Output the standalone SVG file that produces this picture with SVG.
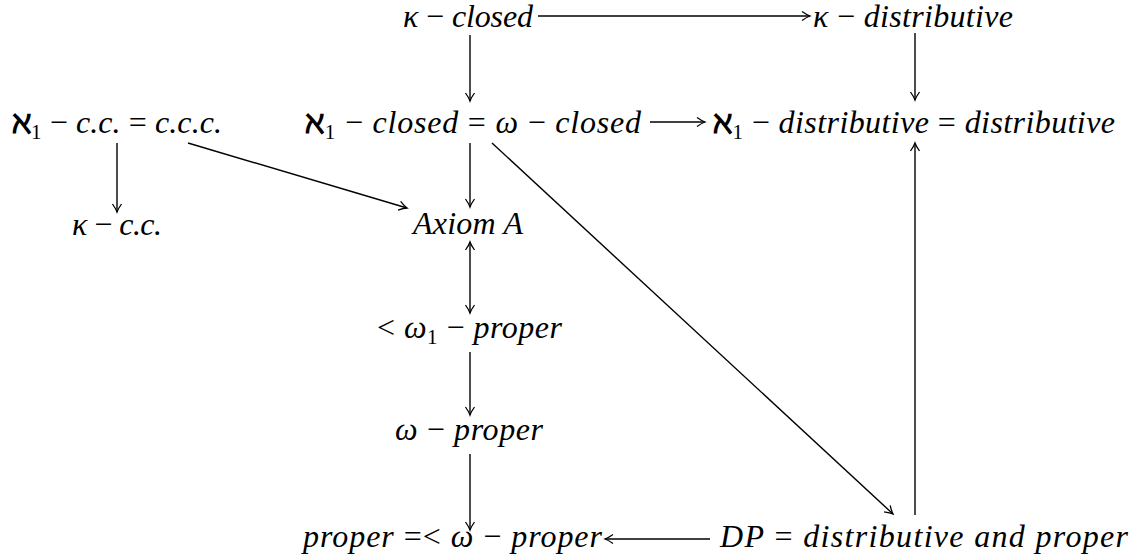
<svg xmlns="http://www.w3.org/2000/svg" width="1137" height="555" viewBox="0 0 1137 555">
<style>
.c{fill:none;stroke:#000;stroke-width:1.4}
</style>
<defs>
<marker id="ah" viewBox="-10 -6 12 12" refX="0" refY="0" markerWidth="12" markerHeight="12" markerUnits="userSpaceOnUse" orient="auto-start-reverse">
<path d="M-8,-4.5 Q-3,-1 0,0 Q-3,1 -8,4.5" fill="none" stroke="#000" stroke-width="1.3"/>
</marker>
</defs>
<rect width="1137" height="555" fill="#fff"/>
<g id="connectors">
<line class="c" x1="538" y1="16" x2="810" y2="16" marker-end="url(#ah)"/>
<line class="c" x1="470" y1="35" x2="470" y2="101" marker-end="url(#ah)"/>
<line class="c" x1="915" y1="33" x2="915" y2="100" marker-end="url(#ah)"/>
<line class="c" x1="650" y1="122" x2="705" y2="122" marker-end="url(#ah)"/>
<line class="c" x1="117" y1="143" x2="117" y2="212" marker-end="url(#ah)"/>
<line class="c" x1="188" y1="143" x2="407" y2="208" marker-end="url(#ah)"/>
<line class="c" x1="470" y1="143" x2="470" y2="207" marker-end="url(#ah)"/>
<line class="c" x1="492" y1="143" x2="893" y2="514" marker-end="url(#ah)"/>
<line class="c" x1="470" y1="242" x2="470" y2="313" marker-start="url(#ah)" marker-end="url(#ah)"/>
<line class="c" x1="470" y1="352" x2="470" y2="415" marker-end="url(#ah)"/>
<line class="c" x1="470" y1="454" x2="470" y2="530" marker-end="url(#ah)"/>
<line class="c" x1="710" y1="539" x2="605" y2="539" marker-end="url(#ah)"/>
<line class="c" x1="915" y1="515" x2="915" y2="143" marker-end="url(#ah)"/>
</g>
<g id="n-kappa-closed"><text font-family="Liberation Serif" font-size="32" font-style="italic" x="403" y="27" textLength="130">κ<tspan font-style="normal"> − </tspan>closed</text></g>
<g id="n-kappa-distributive"><text font-family="Liberation Serif" font-size="32" font-style="italic" x="813" y="27" textLength="200">κ<tspan font-style="normal"> − </tspan>distributive</text></g>
<g id="n-aleph-cc"><text font-family="Liberation Serif" font-size="32" font-style="italic" x="12" y="133" textLength="210"><tspan font-style="normal" font-weight="bold">ℵ</tspan><tspan font-style="normal" font-size="21" dy="6">1</tspan><tspan font-style="normal" dy="-6"> − </tspan>c.c.<tspan font-style="normal"> = </tspan>c.c.c.</text></g>
<g id="n-aleph-closed"><text font-family="Liberation Serif" font-size="32" font-style="italic" x="305" y="133" textLength="336"><tspan font-style="normal" font-weight="bold">ℵ</tspan><tspan font-style="normal" font-size="21" dy="6">1</tspan><tspan font-style="normal" dy="-6"> − </tspan>closed<tspan font-style="normal"> = </tspan>ω<tspan font-style="normal"> − </tspan>closed</text></g>
<g id="n-aleph-distributive"><text font-family="Liberation Serif" font-size="32" font-style="italic" x="713" y="133" textLength="402"><tspan font-style="normal" font-weight="bold">ℵ</tspan><tspan font-style="normal" font-size="21" dy="6">1</tspan><tspan font-style="normal" dy="-6"> − </tspan>distributive<tspan font-style="normal"> = </tspan>distributive</text></g>
<g id="n-kappa-cc"><text font-family="Liberation Serif" font-size="32" font-style="italic" x="72" y="235" textLength="90">κ<tspan font-style="normal"> − </tspan>c.c.</text></g>
<g id="n-axiom-a"><text font-family="Liberation Serif" font-size="32" font-style="italic" x="413" y="234" textLength="110">Axiom A</text></g>
<g id="n-omega1-proper"><text font-family="Liberation Serif" font-size="32" font-style="italic" x="377" y="338" textLength="185"><tspan font-style="normal">&lt; </tspan>ω<tspan font-style="normal" font-size="21" dy="6">1</tspan><tspan font-style="normal" dy="-6"> − </tspan>proper</text></g>
<g id="n-omega-proper"><text font-family="Liberation Serif" font-size="32" font-style="italic" x="395" y="440" textLength="148">ω<tspan font-style="normal"> − </tspan>proper</text></g>
<g id="n-proper"><text font-family="Liberation Serif" font-size="32" font-style="italic" x="303" y="547" textLength="299">proper<tspan font-style="normal"> =&lt; </tspan>ω<tspan font-style="normal"> − </tspan>proper</text></g>
<g id="n-dp"><text font-family="Liberation Serif" font-size="32" font-style="italic" x="720" y="547" textLength="408">DP<tspan font-style="normal"> = </tspan>distributive and proper</text></g>
</svg>
